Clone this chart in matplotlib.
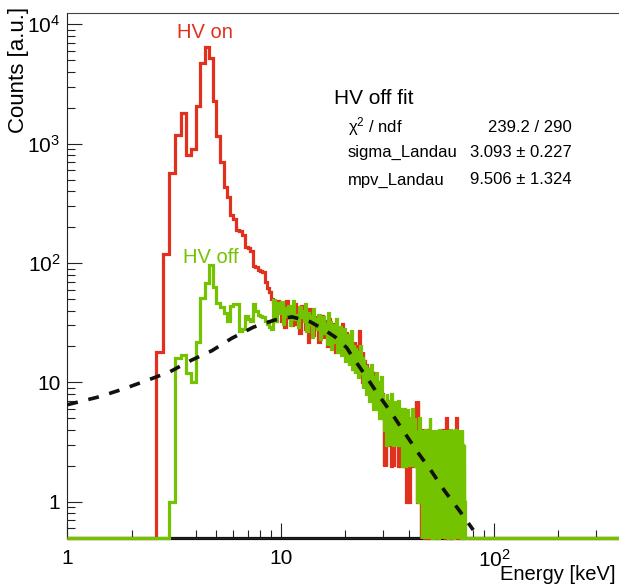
import numpy as np
import matplotlib
matplotlib.use("Agg")
import matplotlib.pyplot as plt
from matplotlib.ticker import FixedLocator, FixedFormatter, LogLocator, NullFormatter

plt.rcParams['font.family'] = ['Liberation Sans', 'DejaVu Sans']
plt.rcParams['mathtext.fontset'] = 'custom'
plt.rcParams['mathtext.rm'] = 'Liberation Sans'
plt.rcParams['mathtext.it'] = 'Liberation Sans:italic'
plt.rcParams['mathtext.bf'] = 'Liberation Sans:bold'

# ---------------- data ----------------
BIN_WIDTH = 0.2      # keV
FIRST_EDGE = 2.6     # keV, lower edge of first listed bin

hv_on_counts = [
    18, 119, 565, 1180, 1800, 800, 900, 2070, 4710, 6490,      # 2.6 - 4.4
    5190, 2290, 1150, 700, 430, 360, 253, 235, 190, 185,       # 4.6 - 6.4
    172, 135, 133, 126, 95, 92, 88, 86, 84, 70,                # 6.6 - 8.4
    62, 57, 50, 47, 44, 48,                                    # 8.6 - 9.6
    45, 33, 40, 29, 48,   35, 42, 30, 38, 45,                  # 9.8 - 11.6
    31, 40, 26, 44, 34,   39, 28, 36, 22, 41,                  # 11.8 - 13.6
    30, 37, 25, 33, 28,   35, 22, 31, 27, 36,                  # 13.8 - 15.6
    24, 33, 28, 20, 30,   34, 23, 28, 21, 31,                  # 15.8 - 17.6
    25, 18, 29, 23, 26,   20, 27, 22, 31, 18,                  # 17.8 - 19.6
    23, 17, 26, 20, 16,   24, 19, 15, 21, 17,                  # 19.8 - 21.6
    13, 18, 22, 14, 17,   15, 20, 13, 27, 16,                  # 21.8 - 23.6
    14, 10, 18, 12, 15,   12, 9, 14, 10, 13,                   # 23.8 - 25.6
    9, 13, 10, 8, 12,     10, 7, 12, 9, 8,                     # 25.8 - 27.6
    11, 8, 6, 10, 7,      7, 9, 6, 8, 5,                       # 27.8 - 29.6
    8, 5, 7, 2, 6,        4, 2, 6, 5, 7,                       # 29.8 - 31.6
    6, 3, 5, 7, 4,        3, 2, 6, 4, 5,                       # 31.8 - 33.6
    2, 5, 6, 3, 4,        5, 3, 4, 6, 2,                       # 33.8 - 35.6
    4, 6, 3, 2, 5,        3, 5, 4, 6, 2,                       # 35.8 - 37.6
    4, 2, 5, 3, 6,        1, 3, 5, 1, 4,                       # 37.8 - 39.6
    3, 1, 4, 2, 5,        2, 4, 3, 5, 3,                       # 39.8 - 41.6
    4, 3, 2, 5, 2,        3, 7, 2, 4, 1,                       # 41.8 - 43.6
    2, 7, 3, 1, 4,        3, 1, 2, 0, 3,                       # 43.8 - 45.6
    1, 4, 0, 2, 3,        2, 0, 3, 1, 2,                       # 45.8 - 47.6
    0, 3, 1, 2, 4,        2, 1, 0, 3, 1,                       # 47.8 - 49.6
    3, 0, 2, 1, 4,        1, 3, 0, 2, 1,                       # 49.8 - 51.6
    0, 2, 4, 1, 0,        2, 1, 3, 0, 2,                       # 51.8 - 53.6
    1, 3, 0, 2, 4,        3, 0, 2, 1, 0,                       # 53.8 - 55.6
    1, 2, 4, 0, 2,        0, 3, 1, 2, 3,                       # 55.8 - 57.6
    4, 1, 0, 2, 1,        2, 0, 3, 1, 2,                       # 57.8 - 59.6
    5, 1, 2, 0, 3,        0, 2, 1, 3, 0,                       # 59.8 - 61.6
    2, 1, 3, 0, 2,        1, 0, 2, 3, 1,                       # 61.8 - 63.6
    3, 1, 0, 2, 1,        0, 2, 3, 1, 0,                       # 63.8 - 65.6
    2, 0, 1, 3, 5,        1, 2, 0, 1, 3,                       # 65.8 - 67.6
    0, 1, 2, 0, 1,        2, 0, 1, 3, 0,                       # 67.8 - 69.6
    1, 2, 0, 1, 2,        0, 1, 2, 0, 1,                       # 69.8 - 71.6
    1, 0, 0, 1, 0,        0, 0, 0, 0, 0,                       # 71.8 - 73.6
]

hv_off_counts = [
    0, 0, 1, 16, 17, 12, 10, 22, 51, 68,                       # 2.6 - 4.4
    96, 63, 46, 43, 38, 33, 44, 45, 45, 27,                    # 4.6 - 6.4
    28, 36, 34, 33, 45, 40, 37, 36, 35, 33,                    # 6.6 - 8.4
    31, 29, 28, 49, 33, 46,                                    # 8.6 - 9.6
    38, 47, 31, 42, 36,   44, 30, 39, 48, 34,                  # 9.8 - 11.6
    37, 29, 43, 35, 40,   33, 45, 27, 38, 31,                  # 11.8 - 13.6
    36, 24, 41, 30, 34,   28, 37, 23, 33, 30,                  # 13.8 - 15.6
    35, 26, 31, 21, 38,   27, 32, 19, 29, 25,                  # 15.8 - 17.6
    30, 22, 34, 18, 27,   24, 29, 17, 26, 21,                  # 17.8 - 19.6
    28, 15, 23, 19, 25,   14, 22, 18, 27, 13,                  # 19.8 - 21.6
    20, 16, 12, 19, 15,   18, 11, 17, 14, 20,                  # 21.8 - 23.6
    12, 16, 9, 15, 13,    10, 14, 8, 13, 11,                   # 23.8 - 25.6
    12, 7, 11, 9, 14,     8, 10, 6, 11, 9,                     # 25.8 - 27.6
    7, 12, 8, 6, 10,      9, 5, 8, 7, 11,                      # 27.8 - 29.6
    6, 8, 5, 7, 4,        7, 5, 3, 8, 6,                       # 29.8 - 31.6
    4, 6, 5, 3, 7,        5, 8, 4, 6, 3,                       # 31.8 - 33.6
    6, 4, 7, 5, 3,        4, 6, 3, 5, 7,                       # 33.8 - 35.6
    5, 3, 6, 4, 3,        6, 4, 2, 5, 3,                       # 35.8 - 37.6
    3, 6, 4, 2, 5,        4, 2, 3, 6, 3,                       # 37.8 - 39.6
    2, 5, 3, 4, 2,        5, 3, 2, 6, 4,                       # 39.8 - 41.6
    3, 2, 4, 3, 5,        2, 4, 3, 1, 3,                       # 41.8 - 43.6
    4, 2, 1, 3, 5,        2, 3, 1, 4, 2,                       # 43.8 - 45.6
    0, 3, 2, 4, 1,        3, 1, 0, 2, 4,                       # 45.8 - 47.6
    2, 0, 3, 1, 2,        4, 1, 2, 0, 3,                       # 47.8 - 49.6
    1, 5, 2, 0, 3,        2, 1, 4, 0, 2,                       # 49.8 - 51.6
    3, 0, 1, 2, 4,        1, 3, 0, 2, 1,                       # 51.8 - 53.6
    4, 0, 2, 3, 1,        0, 2, 1, 4, 2,                       # 53.8 - 55.6
    3, 1, 0, 2, 3,        1, 4, 2, 0, 1,                       # 55.8 - 57.6
    2, 0, 3, 1, 4,        0, 2, 1, 3, 0,                       # 57.8 - 59.6
    2, 4, 0, 1, 3,        1, 0, 2, 3, 1,                       # 59.8 - 61.6
    3, 2, 0, 4, 1,        0, 1, 3, 2, 0,                       # 61.8 - 63.6
    2, 3, 1, 0, 4,        1, 0, 2, 3, 1,                       # 63.8 - 65.6
    4, 1, 0, 2, 3,        0, 3, 1, 2, 0,                       # 65.8 - 67.6
    2, 1, 4, 0, 1,        3, 0, 2, 1, 3,                       # 67.8 - 69.6
    1, 2, 0, 4, 1,        0, 3, 1, 2, 0,                       # 69.8 - 71.6
    2, 1, 3, 0, 1,        0, 0, 0, 0, 0,                       # 71.8 - 73.6
]

# Landau fit curve (keV, counts)
fit_x = [1.0, 1.42, 1.86, 2.40, 3.03, 3.83, 4.75, 5.89, 7.44, 9.40,
         11.3, 13.7, 15.6, 18.0, 20.4, 21.5, 24.8, 28.7, 33.1, 38.2,
         44.2, 51.0, 58.9, 69.2, 79.9]
fit_y = [6.5, 7.6, 8.9, 10.5, 12.3, 15.4, 18.4, 23.4, 29.0, 33.4,
         35.4, 32.3, 28.4, 24.0, 19.5, 16.8, 11.6, 7.86, 5.52, 3.75,
         2.55, 1.79, 1.22, 0.83, 0.58]

x_tick_values = [1, 10, 100]
x_tick_labels = ['1', '10', r'$10^{2}$']
y_tick_values = [1, 10, 100, 1000, 10000]
y_tick_labels = ['1', '10', r'$10^{2}$', r'$10^{3}$', r'$10^{4}$']

stat_title = 'HV off fit'
stat_names = ['χ$^{2}$ / ndf', 'sigma_Landau', 'mpv_Landau']
stat_values = ['239.2 / 290', '3.093 ± 0.227', '9.506 ± 1.324']

X_MIN, X_MAX = 1.0, 10 ** 2.8
Y_MIN, Y_MAX = 0.5, 12370

RED = '#E1311E'
GREEN = '#74C300'

# ---------------- figure ----------------
W, H = 619, 588
DECADE_PX = 213.4
fig = plt.figure(figsize=(W / 100, H / 100), dpi=100)
ax_left, ax_top, ax_bottom = 67.3, 13.3, 537.7
ax_right = ax_left + DECADE_PX * np.log10(X_MAX / X_MIN)
ax = fig.add_axes([ax_left / W, 1 - ax_bottom / H,
                   (ax_right - ax_left) / W, (ax_bottom - ax_top) / H])
ax.set_xscale('log')
ax.set_yscale('log')
ax.set_xlim(X_MIN, X_MAX)
ax.set_ylim(Y_MIN, Y_MAX)


def hist_line(counts, color, z):
    counts = np.asarray(counts, dtype=float)
    edges = FIRST_EDGE + BIN_WIDTH * np.arange(len(counts) + 1)
    vals = np.where(counts > 0, counts, Y_MIN)
    full_edges = np.concatenate([[X_MIN], edges, [X_MAX]])
    full_vals = np.concatenate([[Y_MIN], vals, [Y_MIN]])
    ax.stairs(full_vals, full_edges, baseline=None, color=color,
              lw=2.3, zorder=z, clip_on=False)


# baseline (empty histogram drawn at the bottom)
ax.plot([X_MIN, X_MAX], [Y_MIN, Y_MIN], color='#111111', lw=2.3,
        zorder=2, clip_on=False, solid_capstyle='butt')
hist_line(hv_on_counts, RED, 3)
hist_line(hv_off_counts, GREEN, 4)
ax.plot(fit_x, fit_y, color='#111111', lw=2.6, ls=(0, (3.0, 3.0)), zorder=5)

# axes styling
ax.spines['right'].set_visible(False)
ax.spines['top'].set_color('#444444')
ax.spines['left'].set_color('#222222')
ax.spines['bottom'].set_color('#222222')
for s in ax.spines.values():
    s.set_linewidth(0.8)

ax.xaxis.set_major_locator(FixedLocator(x_tick_values))
ax.xaxis.set_major_formatter(FixedFormatter(x_tick_labels))
ax.xaxis.set_minor_locator(LogLocator(base=10, subs=np.arange(2, 10)))
ax.xaxis.set_minor_formatter(NullFormatter())
ax.yaxis.set_major_locator(FixedLocator(y_tick_values))
ax.yaxis.set_major_formatter(FixedFormatter(y_tick_labels))
ax.yaxis.set_minor_locator(LogLocator(base=10, subs=np.arange(2, 10)))
ax.yaxis.set_minor_formatter(NullFormatter())

ax.tick_params(which='both', direction='in', color='#222222', width=0.8,
               top=False, right=False)
ax.tick_params(which='major', length=10.5, labelsize=15)
ax.tick_params(which='minor', length=5.5)
ax.tick_params(axis='x', which='major', pad=8)
ax.tick_params(axis='y', which='major', pad=5)

# axis titles
fig.text(19 / W, 1 - 7 / H, 'Counts [a.u.]', rotation=90, ha='center', va='top',
         fontsize=16)
fig.text(616 / W, 1 - 575 / H, 'Energy [keV]', ha='right', va='center',
         fontsize=14.5)

# curve labels
fig.text(205 / W, 1 - 33 / H, 'HV on', color=RED, ha='center', va='center',
         fontsize=14.5)
fig.text(211 / W, 1 - 258 / H, 'HV off', color=GREEN, ha='center', va='center',
         fontsize=14.5)

# fit statistics
fig.text(334 / W, 1 - 99 / H, stat_title, ha='left', va='center', fontsize=15)
stat_y = [127, 152, 180]
for name, val, yy in zip(stat_names, stat_values, stat_y):
    fig.text(348 / W, 1 - yy / H, name, ha='left', va='center', fontsize=12)
    fig.text(572 / W, 1 - yy / H, val, ha='right', va='center', fontsize=12)

fig.savefig('out.png', dpi=100)
